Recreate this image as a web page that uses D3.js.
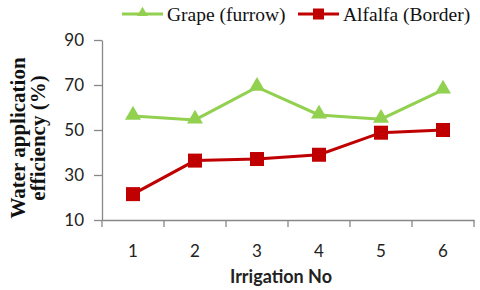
<!DOCTYPE html>
<html>
<head>
<meta charset="utf-8">
<script src="https://cdn.jsdelivr.net/npm/d3@7"></script>
<style>
body{margin:0;background:#fff}
.serif{font-family:'Liberation Serif','Times New Roman',serif}
.sans{font-family:Lato,'Open Sans',sans-serif}
</style>
</head>
<body>
<svg id="chart"></svg>
<script>
var irrigations = [1,2,3,4,5,6]
var grape = [56.2,54.5,69.0,56.7,54.8,67.8]
var alfalfa = [21.5,36.4,37.1,39.0,48.8,50.0]
var yTicks = [10,30,50,70,90]

var screen = {width:480, height:290}
var margins = {top:40, bottom:70, left:102, right:6}
var width = screen.width - margins.left - margins.right
var height = screen.height - margins.top - margins.bottom

var svg = d3.select('#chart')
  .attr('width',screen.width)
  .attr('height',screen.height)

var xScale = d3.scaleBand()
  .domain(irrigations)
  .range([0,width])

var yScale = d3.scaleLinear()
  .domain([10,90])
  .range([height,0])

var plot = svg.append('g')
  .attr('transform','translate('+margins.left+','+margins.top+')')

// y axis
var yAxis = plot.append('g')
  .call(d3.axisLeft(yScale).tickValues(yTicks).tickSize(8).tickSizeOuter(0))
yAxis.attr('font-family',null).attr('font-size',null)
yAxis.select('.domain').attr('stroke','#888').attr('stroke-width',1.3)
yAxis.selectAll('.tick line').attr('stroke','#888').attr('stroke-width',1.3)
yAxis.selectAll('text')
  .attr('class','sans')
  .style('font-size','17px')
  .attr('fill','#222')
  .attr('x',-18)

// x axis
var xAxis = plot.append('g')
  .attr('transform','translate(0,'+height+')')
  .call(d3.axisBottom(xScale).tickSize(0).tickSizeOuter(0))
xAxis.attr('font-family',null).attr('font-size',null)
xAxis.select('.domain').attr('stroke','#888').attr('stroke-width',1.3)
xAxis.selectAll('text')
  .attr('class','sans')
  .style('font-size','17px')
  .attr('fill','#222')
  .attr('y',37)
  .attr('dy',0)
// band boundary ticks
xAxis.selectAll('.bt')
  .data(d3.range(irrigations.length+1))
  .enter()
  .append('line')
  .attr('x1',function(d){return d*xScale.step()})
  .attr('x2',function(d){return d*xScale.step()})
  .attr('y1',0)
  .attr('y2',7)
  .attr('stroke','#888')
  .attr('stroke-width',1.3)

var cx = function(d,i){return xScale(irrigations[i]) + xScale.bandwidth()/2}

var line = d3.line()
  .x(cx)
  .y(function(d){return yScale(d)})

// grape series
plot.append('path')
  .datum(grape)
  .attr('d',line)
  .attr('fill','none')
  .attr('stroke','#92D050')
  .attr('stroke-width',3)
plot.selectAll('.tri')
  .data(grape)
  .enter()
  .append('path')
  .attr('d',d3.symbol().type(d3.symbolTriangle).size(110))
  .attr('transform',function(d,i){return 'translate('+cx(d,i)+','+(yScale(d)-1)+')'})
  .attr('fill','#92D050')

// alfalfa series
plot.append('path')
  .datum(alfalfa)
  .attr('d',line)
  .attr('fill','none')
  .attr('stroke','#C00000')
  .attr('stroke-width',3)
plot.selectAll('.sq')
  .data(alfalfa)
  .enter()
  .append('rect')
  .attr('x',function(d,i){return cx(d,i)-7})
  .attr('y',function(d){return yScale(d)-7})
  .attr('width',14)
  .attr('height',14)
  .attr('fill','#C00000')

// axis titles
svg.append('text')
  .attr('class','sans')
  .attr('x',margins.left + width/2 - 7)
  .attr('y',283)
  .attr('text-anchor','middle')
  .style('font-weight','bold')
  .style('font-size','18px')
  .attr('fill','#222')
  .text('Irrigation No')

var yt = svg.append('text')
  .attr('class','serif')
  .attr('transform','translate(28,138) rotate(-90)')
  .attr('text-anchor','middle')
  .style('font-weight','bold')
  .style('font-size','21px')
  .attr('fill','#111')
yt.append('tspan').attr('x',0).attr('dy','-0.15em').text('Water application')
yt.append('tspan').attr('x',0).attr('dy','0.98em').text('efficiency (%)')

// legend
var legend = [
  {name:'Grape (furrow)', color:'#92D050', x:122, shape:'tri'},
  {name:'Alfalfa (Border)', color:'#C00000', x:298, shape:'sq'}
]
legend.forEach(function(d){
  svg.append('line')
    .attr('x1',d.x).attr('x2',d.x+41)
    .attr('y1',14).attr('y2',14)
    .attr('stroke',d.color)
    .attr('stroke-width',3)
  if (d.shape=='tri'){
    svg.append('path')
      .attr('d',d3.symbol().type(d3.symbolTriangle).size(50))
      .attr('transform','translate('+(d.x+20.5)+',13)')
      .attr('fill',d.color)
  } else {
    svg.append('rect')
      .attr('x',d.x+15).attr('y',8.5)
      .attr('width',11).attr('height',11)
      .attr('fill',d.color)
  }
  svg.append('text')
    .attr('class','serif')
    .attr('x',d.x+45)
    .attr('y',21)
    .style('font-size','19.5px')
    .attr('fill','#111')
    .text(d.name)
})
</script>
</body>
</html>
